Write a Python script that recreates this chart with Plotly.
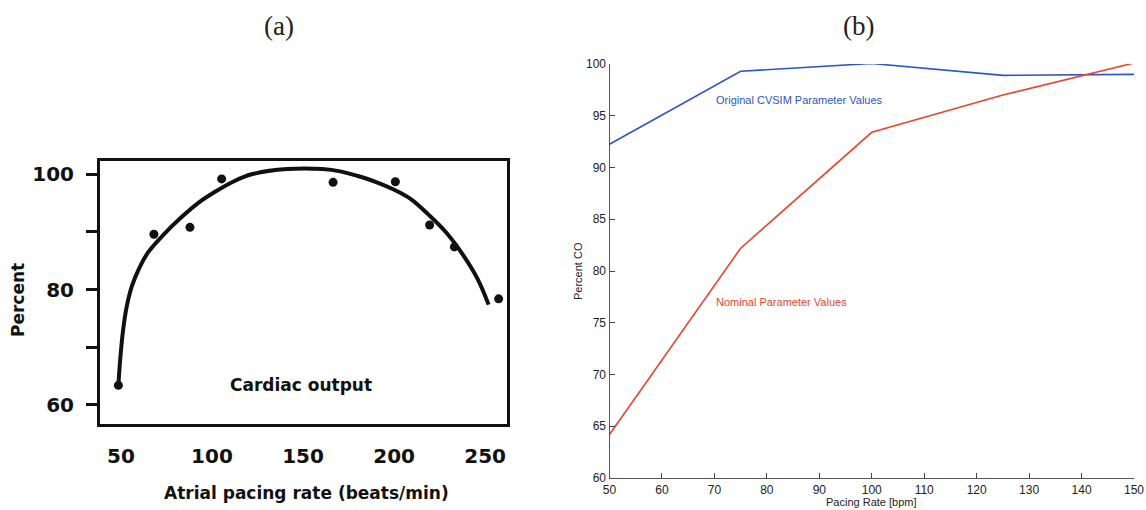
import plotly.graph_objects as go

# ---------- Panel (a): measured cardiac output vs atrial pacing rate ----------
a_points_x = [48.6, 68.1, 87.9, 105.3, 166.5, 200.7, 219.5, 233.1, 257.4]
a_points_y = [63.4, 89.6, 90.8, 99.2, 98.6, 98.7, 91.2, 87.4, 78.4]

a_curve_x = [48.6, 49.5, 51.0, 53.0, 56.0, 60.0, 65.0, 73.3, 83.0, 92.7, 102.4,
             112.1, 121.8, 141.3, 160.7, 170.4, 180.1, 189.8, 199.5, 209.2, 218.9,
             228.6, 238.3, 246.1, 251.9]
a_curve_y = [63.4, 67.5, 72.5, 76.8, 80.6, 83.7, 86.5, 89.5, 92.5, 95.1, 97.1,
             98.8, 100.0, 100.9, 100.9, 100.5, 99.7, 98.7, 97.4, 95.7, 93.0,
             89.9, 85.8, 81.7, 77.4]

a_xticks = [50, 100, 150, 200, 250]
a_yticks = [60, 70, 80, 90, 100]
a_yticktext = ["60", "", "80", "", "100"]

# ---------- Panel (b): simulated percent CO vs pacing rate ----------
b_rate = [50, 75, 100, 125, 150]
b_original = [92.25, 99.3, 100.05, 98.9, 99.0]
b_nominal = [64.2, 82.2, 93.4, 97.0, 100.1]
b_xticks = [50, 60, 70, 80, 90, 100, 110, 120, 130, 140, 150]
b_yticks = [60, 65, 70, 75, 80, 85, 90, 95, 100]

W, H = 1146, 510
BLUE = "#2f55c9"
RED = "#e8462e"
SCAN_FONT = "DejaVu Sans"
MAT_FONT = "Liberation Sans"

fig = go.Figure()

fig.add_trace(go.Scatter(x=a_curve_x, y=a_curve_y, mode="lines",
                         line=dict(color="#111111", width=4, shape="spline", smoothing=1.0),
                         xaxis="x", yaxis="y", showlegend=False, hoverinfo="skip"))
fig.add_trace(go.Scatter(x=a_points_x, y=a_points_y, mode="markers",
                         marker=dict(color="#111111", size=9),
                         xaxis="x", yaxis="y", showlegend=False))

fig.add_trace(go.Scatter(x=b_rate, y=b_original, mode="lines",
                         line=dict(color=BLUE, width=1.6),
                         xaxis="x2", yaxis="y2", showlegend=False))
fig.add_trace(go.Scatter(x=b_rate, y=b_nominal, mode="lines",
                         line=dict(color=RED, width=1.6),
                         xaxis="x2", yaxis="y2", showlegend=False))

fig.update_layout(
    width=W, height=H,
    margin=dict(l=0, r=0, t=0, b=0, autoexpand=False),
    paper_bgcolor="white", plot_bgcolor="white",
    showlegend=False,
    xaxis=dict(domain=[100 / W, 507 / W], range=[38.5, 262], anchor="y", automargin=False,
               tickvals=a_xticks, ticks="outside", ticklen=12, tickcolor="rgba(0,0,0,0)",
               showline=True, linecolor="#111111", linewidth=3, mirror=True,
               showgrid=False, zeroline=False,
               tickfont=dict(family=SCAN_FONT, size=20, color="#111111", weight="bold")),
    yaxis=dict(domain=[1 - 424 / H, 1 - 161 / H], range=[56.7, 102.3], anchor="x", automargin=False,
               tickvals=a_yticks, ticktext=a_yticktext, ticks="outside", ticklen=11,
               tickwidth=2.5, tickcolor="#111111", ticklabelstandoff=8,
               showline=True, linecolor="#111111", linewidth=3, mirror=True,
               showgrid=False, zeroline=False,
               tickfont=dict(family=SCAN_FONT, size=20, color="#111111", weight="bold")),
    xaxis2=dict(domain=[609.5 / W, 1134 / W], range=[50, 150], anchor="y2", automargin=False,
                tickvals=b_xticks, ticks="inside", ticklen=5, tickcolor="#444444",
                showline=True, linecolor="#555555", linewidth=1.2,
                showgrid=False, zeroline=False,
                tickfont=dict(family=MAT_FONT, size=12, color="#222222")),
    yaxis2=dict(domain=[1 - 478 / H, 1 - 64 / H], range=[60, 100], anchor="x2", automargin=False,
                tickvals=b_yticks, ticks="inside", ticklen=5, tickcolor="#444444",
                showline=True, linecolor="#555555", linewidth=1.2,
                showgrid=False, zeroline=False,
                tickfont=dict(family=MAT_FONT, size=12, color="#222222")),
)

annotations = [
    # panel labels
    dict(text="(a)", x=279 / W, y=1 - 26 / H, xref="paper", yref="paper",
         showarrow=False, xanchor="center", yanchor="middle",
         font=dict(family="Liberation Serif", size=27, color="#222222")),
    dict(text="(b)", x=859 / W, y=1 - 26 / H, xref="paper", yref="paper",
         showarrow=False, xanchor="center", yanchor="middle",
         font=dict(family="Liberation Serif", size=27, color="#222222")),
    # panel (a) texts
    dict(text="Atrial pacing rate (beats/min)", x=306 / W, y=1 - 493 / H,
         xref="paper", yref="paper", showarrow=False, xanchor="center", yanchor="middle",
         font=dict(family=SCAN_FONT, size=17, color="#111111", weight="bold")),
    dict(text="Percent", x=18 / W, y=1 - 300 / H, xref="paper", yref="paper",
         showarrow=False, textangle=-90, xanchor="center", yanchor="middle",
         font=dict(family=SCAN_FONT, size=17, color="#111111", weight="bold")),
    dict(text="Cardiac output", x=149, y=63.5, xref="x", yref="y",
         showarrow=False, xanchor="center", yanchor="middle",
         font=dict(family=SCAN_FONT, size=17, color="#111111", weight="bold")),
    # panel (b) texts
    dict(text="Pacing Rate [bpm]", x=871 / W, y=1 - 502 / H, xref="paper", yref="paper",
         showarrow=False, xanchor="center", yanchor="middle",
         font=dict(family=MAT_FONT, size=11, color="#222222")),
    dict(text="Percent CO", x=578 / W, y=1 - 271 / H, xref="paper", yref="paper",
         showarrow=False, textangle=-90, xanchor="center", yanchor="middle",
         font=dict(family=MAT_FONT, size=11, color="#222222")),
    dict(text="Original CVSIM Parameter Values", x=70, y=96.5, xref="x2", yref="y2",
         showarrow=False, xanchor="left", yanchor="middle",
         font=dict(family=MAT_FONT, size=11, color=BLUE)),
    dict(text="Nominal Parameter Values", x=70, y=77.0, xref="x2", yref="y2",
         showarrow=False, xanchor="left", yanchor="middle",
         font=dict(family=MAT_FONT, size=11, color=RED)),
]
fig.update_layout(annotations=annotations)

fig.write_html("out.html")
